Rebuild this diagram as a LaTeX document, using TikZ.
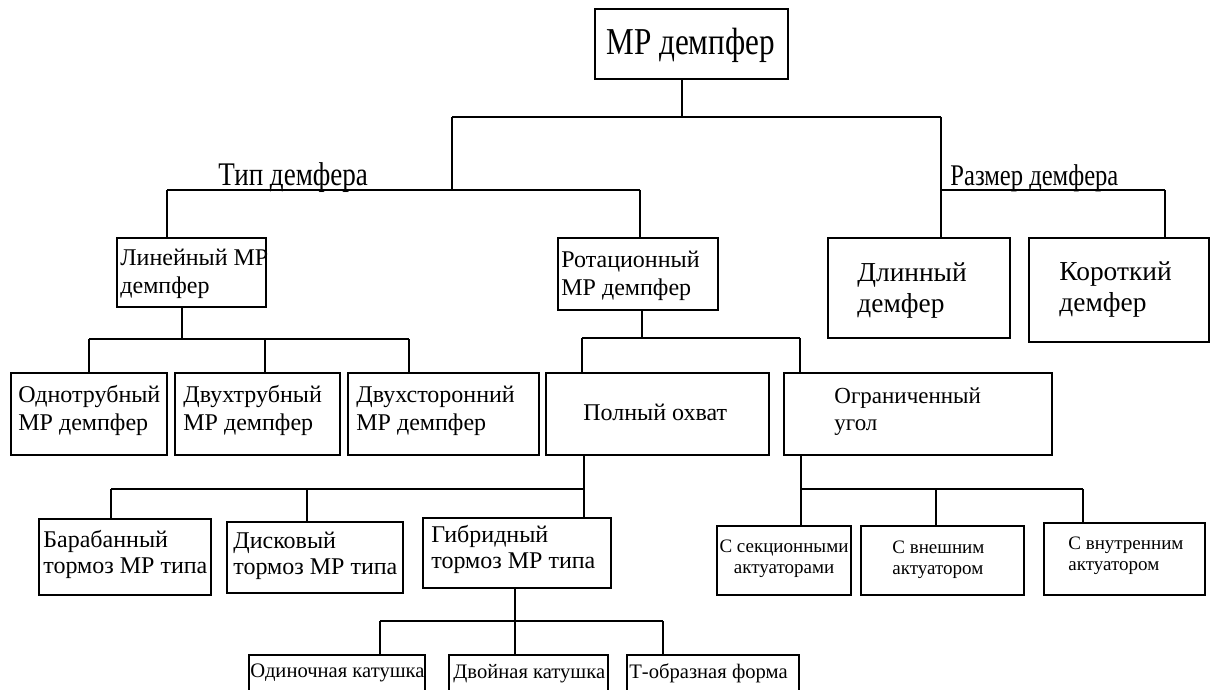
\documentclass[tikz,border=0pt]{standalone}
\usepackage{fontspec}
\setmainfont{Liberation Serif}
\newfontfamily\condfont{Liberation Serif}[FakeStretch=0.82]
\usetikzlibrary{fit}
\newcommand\twoline[2]{\vtop{\hbox{#1}\hbox{#2}}}
\newcommand\twolinec[2]{\vtop{\halign{\hfil##\hfil\cr#1\cr#2\cr}}}
\begin{document}
\begin{tikzpicture}[x=0.5pt,y=-0.5pt,
  box/.style={draw, line width=1.3pt, inner sep=0pt},
  conn/.style={line width=1.3pt},
  txt/.style={inner sep=0pt, anchor=base west},
  fbig/.style={font=\condfont\fontsize{19}{22}\selectfont},
  flab/.style={font=\condfont\fontsize{16.5}{19}\selectfont},
  flabs/.style={font=\condfont\fontsize{15}{18}\selectfont},
  fmid/.style={font=\fontsize{12}{14}\selectfont},
  flarge/.style={font=\fontsize{13.7}{15.5}\selectfont},
  fsm/.style={font=\fontsize{12}{13}\selectfont},
  fogr/.style={font=\fontsize{11.5}{13.5}\selectfont},
  fxs/.style={font=\fontsize{10.3}{12}\selectfont},
  fact/.style={font=\fontsize{9.5}{10.5}\selectfont},
]
\useasboundingbox (0,0) rectangle (1216,690);
\fill[white] (0,0) rectangle (1216,690);

% boxes
\node[box, fit={(595,9) (788,79)}] (top) {};
\node[box, fit={(117,238) (266,307)}] (lin) {};
\node[box, fit={(558,238) (718,310)}] (rot) {};
\node[box, fit={(828,238) (1010,338)}] (dl) {};
\node[box, fit={(1029,238) (1209,342)}] (kr) {};
\node[box, fit={(11,373) (167,455)}] (odn) {};
\node[box, fit={(175,373) (340,455)}] (dvt) {};
\node[box, fit={(348,373) (539,455)}] (dvs) {};
\node[box, fit={(546,373) (769,455)}] (pol) {};
\node[box, fit={(784,373) (1052,455)}] (ogr) {};
\node[box, fit={(39,519) (211,595)}] (bar) {};
\node[box, fit={(227,522) (403,593)}] (dis) {};
\node[box, fit={(423,518) (611,588)}] (gib) {};
\node[box, fit={(717,526) (851,595)}] (sek) {};
\node[box, fit={(861,526) (1024,595)}] (vne) {};
\node[box, fit={(1044,523) (1205,595)}] (vnu) {};
\node[box, fit={(249,655) (425,720)}] (odi) {};
\node[box, fit={(449,655) (608,720)}] (dvk) {};
\node[box, fit={(627,655) (799,720)}] (tob) {};

% texts
\node[txt, fbig] (ttop) at (606,55) {МР демпфер};
\node[txt, flab] (ltip) at (218,185) {Тип демфера};
\node[txt, flabs] (lraz) at (950,185) {Размер демфера};
\node[txt, fmid] (tlin) at (120,265) {\twoline{Линейный МР}{демпфер}};
\node[txt, fmid] (trot) at (561,267) {\twoline{Ротационный}{МР демпфер}};
\node[txt, flarge] (tdl) at (857,281) {\twoline{Длинный}{демфер}};
\node[txt, flarge] (tkr) at (1059,280) {\twoline{Короткий}{демфер}};
\node[txt, fmid] (todn) at (18,402) {\twoline{Однотрубный}{МР демпфер}};
\node[txt, fmid] (tdvt) at (183,402) {\twoline{Двухтрубный}{МР демпфер}};
\node[txt, fmid] (tdvs) at (356,402) {\twoline{Двухсторонний}{МР демпфер}};
\node[txt, fsm] (tpol) at (583,420) {Полный охват};
\node[txt, fogr] (togr) at (834,403) {\twoline{Ограниченный}{угол}};
\node[txt, fsm] (tbar) at (43,547) {\twoline{Барабанный}{тормоз МР типа}};
\node[txt, fsm] (tdis) at (233,548) {\twoline{Дисковый}{тормоз МР типа}};
\node[txt, fsm] (tgib) at (431,542) {\twoline{Гибридный}{тормоз МР типа}};
\node[txt, fact, anchor=base] (tsek) at (784,552) {\twolinec{С секционными}{актуаторами}};
\node[txt, fact] (tvne) at (892,553) {\twoline{С внешним}{актуатором}};
\node[txt, fact] (tvnu) at (1068,549) {\twoline{С внутренним}{актуатором}};
\node[txt, fxs] (todi) at (250,677) {Одиночная катушка};
\node[txt, fxs] (tdvk) at (453,678) {Двойная катушка};
\node[txt, fxs] (ttob) at (629,678) {Т-образная форма};

% junction coordinates
\coordinate (s0) at (682,117);
\coordinate (b0l) at (452,117);
\coordinate (b0r) at (941,117);
\coordinate (b1l) at (167,190);
\coordinate (b1r) at (640,190);
\coordinate (b2l) at (941,190);
\coordinate (b2r) at (1165,190);
\coordinate (s3) at (182,339);
\coordinate (b3l) at (89,339);
\coordinate (b3m) at (265,339);
\coordinate (b3r) at (409,339);
\coordinate (s4) at (642,338);
\coordinate (b4l) at (582,338);
\coordinate (b4r) at (800,338);
\coordinate (b5l) at (111,489);
\coordinate (b5m) at (307,489);
\coordinate (b5r) at (584,489);
\coordinate (b6l) at (801,489);
\coordinate (b6m) at (936,489);
\coordinate (b6r) at (1083,489);
\coordinate (s7) at (515,621);
\coordinate (b7l) at (380,621);
\coordinate (b7r) at (663,621);

% connectors
\draw[conn] (s0 |- top.south) -- (s0);
\draw[conn] (b0l) -- (b0r);
\draw[conn] (b0l) -- (b0l |- b1l);
\draw[conn] (b0r) -- (b2l);
\draw[conn] (b1l) -- (b1r);
\draw[conn] (b1l) -- (b1l |- lin.north);
\draw[conn] (b1r) -- (b1r |- rot.north);
\draw[conn] (b2l) -- (b2r);
\draw[conn] (b2l) -- (b2l |- dl.north);
\draw[conn] (b2r) -- (b2r |- kr.north);

\draw[conn] (s3 |- lin.south) -- (s3);
\draw[conn] (b3l) -- (b3r);
\draw[conn] (b3l) -- (b3l |- odn.north);
\draw[conn] (b3m) -- (b3m |- dvt.north);
\draw[conn] (b3r) -- (b3r |- dvs.north);

\draw[conn] (s4 |- rot.south) -- (s4);
\draw[conn] (b4l) -- (b4r);
\draw[conn] (b4l) -- (b4l |- pol.north);
\draw[conn] (b4r) -- (b4r |- ogr.north);

\draw[conn] (b5r |- pol.south) -- (b5r);
\draw[conn] (b5l) -- (b5r);
\draw[conn] (b5l) -- (b5l |- bar.north);
\draw[conn] (b5m) -- (b5m |- dis.north);
\draw[conn] (b5r) -- (b5r |- gib.north);

\draw[conn] (b6l |- ogr.south) -- (b6l);
\draw[conn] (b6l) -- (b6r);
\draw[conn] (b6l) -- (b6l |- sek.north);
\draw[conn] (b6m) -- (b6m |- vne.north);
\draw[conn] (b6r) -- (b6r |- vnu.north);

\draw[conn] (s7 |- gib.south) -- (s7);
\draw[conn] (b7l) -- (b7r);
\draw[conn] (b7l) -- (b7l |- odi.north);
\draw[conn] (s7) -- (s7 |- dvk.north);
\draw[conn] (b7r) -- (b7r |- tob.north);
\end{tikzpicture}
\end{document}
